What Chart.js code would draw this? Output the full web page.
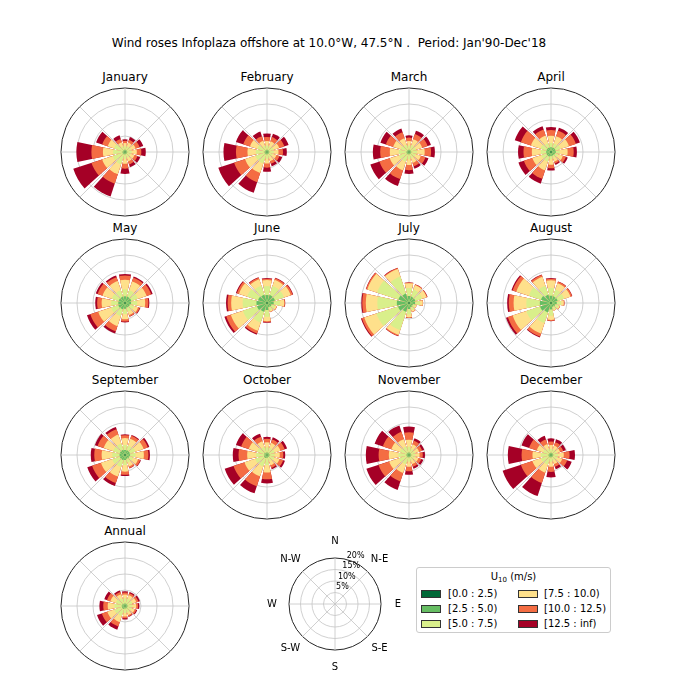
<!DOCTYPE html>
<html><head><meta charset="utf-8">
<script src="https://cdn.jsdelivr.net/npm/chart.js@4.4.1/dist/chart.umd.min.js"></script>
<style>
html,body{margin:0;padding:0;background:#fff;}
#fig{position:relative;width:683px;height:696px;overflow:hidden;font-family:"DejaVu Sans",sans-serif;color:#000;}
.t{position:absolute;transform:translate(-50%,-50%);white-space:nowrap;font-size:12px;line-height:14px;}
canvas{position:absolute;}
#legend{position:absolute;left:416px;top:567px;width:193px;height:64px;border:1px solid #cccccc;border-radius:3px;background:rgba(255,255,255,0.8);font-size:10px;}
#legend .lt{position:absolute;left:0;width:100%;top:3px;text-align:center;font-size:10px;}
#legend .lt sub{font-size:7px;vertical-align:-2px;line-height:0;}
#legend .pt{position:absolute;width:18px;height:6px;border:1px solid #333;}
#legend .tx{position:absolute;line-height:12px;white-space:nowrap;}
</style></head>
<body><div id="fig"></div>
<script>
// ---------------- data (percent frequency, per direction row: one value per speed bin) ----------------
const directions = ['N','30°','60°','E','120°','150°','S','210°','240°','W','300°','330°'];
const speedBins = ['[0.0 : 2.5)','[2.5 : 5.0)','[5.0 : 7.5)','[7.5 : 10.0)','[10.0 : 12.5)','[12.5 : inf)'];
const binColors = ['#006837','#66bd63','#d9ef8b','#fee08b','#f46d43','#a50026'];
const radialTicks = [5,10,15,20];
const compassLabels = ['N','N-E','E','S-E','S','S-W','W','N-W'];
const monthNames = ['January','February','March','April','May','June','July','August','September','October','November','December','Annual'];

const january = [
[0.2,0.5,1.1,1.0,0.7,0.5],[0.2,0.5,1.2,1.2,0.9,0.9],[0.2,0.5,1.3,1.5,1.3,1.2],[0.2,0.5,1.4,1.6,1.4,1.4],
[0.2,0.5,1.2,1.2,1.0,0.9],[0.2,0.5,1.2,1.2,1.0,0.9],[0.2,0.5,1.4,1.6,1.5,1.7],[0.2,0.6,3.3,3.2,3.1,4.2],
[0.2,0.6,3.2,3.5,3.5,6.0],[0.2,0.6,2.9,3.2,3.6,4.7],[0.2,0.5,2.9,2.1,1.8,2.0],[0.2,0.5,1.2,1.3,1.1,1.2]];
const february = [
[0.2,0.5,1.3,1.4,1.3,1.1],[0.2,0.5,1.3,1.5,1.4,1.1],[0.2,0.5,1.5,1.8,1.7,1.4],[0.2,0.5,1.4,1.5,1.4,1.2],
[0.2,0.5,1.2,1.2,1.0,0.9],[0.2,0.5,1.2,1.1,0.9,0.8],[0.2,0.5,1.4,1.5,1.3,1.3],[0.2,0.6,3.0,3.1,3.0,3.5],
[0.2,0.6,3.0,3.4,3.6,5.2],[0.2,0.6,2.7,2.6,3.6,3.9],[0.2,0.5,2.5,2.4,2.2,2.4],[0.2,0.5,1.4,1.6,1.5,1.5]];
const march = [
[0.2,0.5,1.3,1.4,1.1,0.7],[0.2,0.5,1.6,1.9,1.7,1.1],[0.2,0.5,1.6,2.0,1.8,1.1],[0.2,0.5,1.8,2.4,2.0,1.2],
[0.2,0.5,1.5,1.7,1.5,1.0],[0.2,0.5,1.4,1.5,1.1,0.8],[0.2,0.5,1.6,1.8,1.6,1.2],[0.2,0.6,2.4,2.8,2.9,2.3],
[0.2,0.6,2.5,3.0,3.4,3.0],[0.2,0.6,2.4,2.8,3.0,2.3],[0.2,0.5,2.1,2.4,2.4,1.8],[0.2,0.5,1.7,2.1,2.0,1.2]];
const april = [
[0.3,1.2,1.3,2.3,1.8,0.9],[0.3,1.2,1.3,2.4,1.8,1.0],[0.3,1.2,1.6,2.8,2.3,1.3],[0.3,1.2,1.3,2.4,1.9,1.0],
[0.3,1.0,1.0,1.6,1.0,0.6],[0.3,0.9,0.8,1.2,0.6,0.4],[0.3,1.0,1.0,1.7,1.1,0.7],[0.3,1.2,1.7,2.8,2.8,1.6],
[0.3,1.2,1.7,2.9,2.8,1.8],[0.3,1.2,1.7,2.8,2.6,1.7],[0.3,1.2,1.9,3.2,3.3,2.0],[0.3,1.2,1.4,2.5,2.0,1.1]];
const may = [
[0.3,1.8,2.2,3.0,1.3,0.5],[0.3,1.8,2.1,2.9,1.2,0.4],[0.3,1.8,2.1,2.9,1.5,0.5],[0.3,1.6,1.9,2.5,1.0,0.3],
[0.3,1.3,1.4,1.3,0.5,0.2],[0.3,1.2,1.4,1.1,0.4,0.1],[0.3,1.5,1.6,1.7,0.7,0.3],[0.3,1.8,2.2,3.3,1.7,0.7],
[0.3,1.9,2.4,4.2,2.6,1.1],[0.3,1.8,2.2,3.0,1.4,0.6],[0.3,1.8,2.2,3.1,1.6,0.6],[0.3,1.8,2.1,3.0,1.3,0.5]];
const june = [
[0.3,2.2,2.8,1.9,0.4,0.2],[0.3,2.3,3.0,2.0,0.5,0.2],[0.3,2.3,3.0,2.2,0.6,0.2],[0.3,1.8,2.0,1.3,0.2,0.1],
[0.3,1.2,1.2,0.5,0.1,0.0],[0.3,1.1,1.1,0.4,0.1,0.0],[0.3,1.9,2.1,1.4,0.3,0.2],[0.3,2.6,3.5,2.7,0.9,0.4],
[0.3,3.0,4.6,4.0,1.5,0.6],[0.3,3.0,4.3,3.6,1.1,0.5],[0.3,2.6,3.6,2.7,0.7,0.3],[0.3,2.4,3.0,2.1,0.5,0.2]];
const july = [
[0.3,1.9,2.5,1.5,0.2,0.1],[0.3,1.8,2.3,1.5,0.2,0.1],[0.3,1.8,2.2,1.5,0.2,0.1],[0.3,1.6,1.6,0.8,0.1,0.0],
[0.3,1.0,0.8,0.4,0.0,0.0],[0.3,1.1,1.0,0.5,0.1,0.0],[0.3,1.6,1.7,0.9,0.1,0.1],[0.3,2.6,6.0,1.6,0.3,0.1],
[0.3,3.3,7.1,4.0,0.8,0.3],[0.3,3.5,6.1,3.6,1.1,0.3],[0.3,3.2,7.0,3.2,0.4,0.1],[0.3,2.8,5.6,2.5,0.3,0.1]];
const august = [
[0.3,2.0,2.4,2.4,0.5,0.2],[0.3,1.9,2.2,2.1,0.5,0.1],[0.3,1.9,2.1,2.1,0.5,0.1],[0.3,1.5,1.4,0.8,0.2,0.0],
[0.3,1.1,1.1,0.4,0.1,0.0],[0.3,1.0,0.9,0.3,0.0,0.0],[0.3,1.7,2.0,1.3,0.3,0.1],[0.3,2.8,3.5,3.4,1.0,0.3],
[0.3,3.3,4.5,4.5,1.6,0.6],[0.3,3.2,4.2,4.0,1.5,0.5],[0.3,3.0,4.0,4.1,1.2,0.4],[0.3,2.4,3.0,2.9,0.6,0.2]];
const september = [
[0.3,1.3,1.5,2.2,0.9,0.3],[0.3,1.3,1.5,2.2,1.0,0.3],[0.3,1.3,1.8,2.7,1.4,0.5],[0.3,1.3,1.7,2.6,1.4,0.5],
[0.3,1.1,1.3,1.6,0.7,0.2],[0.3,1.0,1.2,1.3,0.5,0.1],[0.3,1.3,1.5,2.1,1.0,0.4],[0.3,1.4,2.3,3.1,2.1,1.0],
[0.3,1.4,2.5,3.7,2.9,1.6],[0.3,1.4,2.3,3.3,2.3,1.1],[0.3,1.4,2.2,3.1,2.0,0.9],[0.3,1.4,2.1,2.9,1.8,0.7]];
const october = [
[0.2,0.6,1.6,1.6,1.1,0.6],[0.2,0.6,1.6,1.6,1.1,0.7],[0.2,0.6,1.7,1.9,1.4,0.8],[0.2,0.6,1.6,1.6,1.1,0.6],
[0.2,0.6,1.6,1.7,1.2,0.6],[0.2,0.5,1.4,1.3,0.8,0.5],[0.2,0.7,2.2,2.4,2.1,1.3],[0.2,0.8,2.8,3.2,3.3,2.3],
[0.2,0.8,2.9,3.5,3.6,2.9],[0.2,0.7,2.5,2.8,2.7,1.8],[0.2,0.7,2.4,2.7,2.5,1.7],[0.2,0.6,1.8,1.9,1.5,1.0]];
const november = [
[0.2,0.6,1.8,2.2,2.3,1.8],[0.2,0.5,1.4,1.4,1.2,0.8],[0.2,0.5,1.3,1.3,1.0,0.7],[0.2,0.5,1.3,1.3,1.0,0.7],
[0.2,0.5,1.2,1.2,0.9,0.7],[0.2,0.5,1.2,1.1,0.9,0.6],[0.2,0.5,1.4,1.6,1.4,1.1],[0.2,0.6,2.3,2.8,2.8,2.8],
[0.2,0.6,2.5,3.2,3.5,4.0],[0.2,0.6,2.5,3.0,3.2,4.0],[0.2,0.6,2.2,2.8,2.8,2.7],[0.2,0.6,2.0,2.4,2.4,2.1]];
const december = [
[0.2,0.5,1.2,1.2,1.1,1.0],[0.2,0.5,1.2,1.2,1.1,1.0],[0.2,0.5,1.2,1.1,1.0,0.9],[0.2,0.5,1.5,1.8,1.8,1.7],
[0.2,0.5,1.4,1.6,1.6,1.5],[0.2,0.5,1.2,1.1,0.9,0.8],[0.2,0.5,1.4,1.6,1.6,1.7],[0.2,0.6,2.4,2.6,3.4,4.3],
[0.2,0.6,2.5,2.8,3.8,6.0],[0.2,0.6,2.4,2.6,3.4,4.3],[0.2,0.5,1.9,2.1,2.5,2.5],[0.2,0.5,1.4,1.5,1.5,1.2]];
const annual = [
[0.2,0.6,1.6,1.2,0.6,0.4],[0.2,0.6,1.6,1.2,0.6,0.4],[0.2,0.6,1.6,1.3,0.7,0.5],[0.2,0.6,1.5,1.2,0.6,0.4],
[0.2,0.6,1.4,1.0,0.5,0.3],[0.2,0.6,1.3,0.9,0.4,0.2],[0.2,0.6,1.4,1.1,0.5,0.4],[0.2,0.8,2.3,2.0,1.4,1.1],
[0.2,0.8,2.5,2.3,1.8,1.6],[0.2,0.8,2.3,2.1,1.4,1.2],[0.2,0.7,2.1,1.8,1.1,0.9],[0.2,0.6,1.7,1.4,0.7,0.5]];

const monthData = [january,february,march,april,may,june,july,august,september,october,november,december,annual];

// ---------------- layout ----------------
const fig = document.getElementById('fig');
const colX = [125, 267, 409, 551];
const rowY = [152, 303, 455, 606];
const SECTOR = 360 / directions.length;   // 30 deg
const OPENING = 0.8;                      // bar opening fraction
const GRID = '#c4c4c4';
const SPINE = '#262626';
const spokeAngles = [0,45,90,135,180,225,270,315];

function addText(html, x, y, size) {
  const d = document.createElement('div');
  d.className = 't';
  d.style.left = x + 'px'; d.style.top = y + 'px';
  d.style.fontSize = size + 'px';
  d.innerHTML = html;
  fig.appendChild(d);
  return d;
}
function addCanvas(left, top, w, h) {
  const c = document.createElement('canvas');
  c.width = w; c.height = h;
  c.style.left = left + 'px'; c.style.top = top + 'px';
  c.style.width = w + 'px'; c.style.height = h + 'px';
  fig.appendChild(c);
  return c;
}

const spokesPlugin = {
  id: 'spokes',
  beforeDatasetsDraw(chart) {
    const s = chart.scales.r, ctx = chart.ctx;
    ctx.save();
    ctx.strokeStyle = GRID; ctx.lineWidth = 0.8;
    spokeAngles.forEach(a => {
      const t = a * Math.PI / 180 - Math.PI / 2;
      ctx.beginPath();
      ctx.moveTo(s.xCenter, s.yCenter);
      ctx.lineTo(s.xCenter + Math.cos(t) * s.drawingArea, s.yCenter + Math.sin(t) * s.drawingArea);
      ctx.stroke();
    });
    ctx.restore();
  }
};

function radialScale(startAngle) {
  return {
    type: 'radialLinear', min: 0, max: 20, startAngle: startAngle, beginAtZero: true,
    ticks: { display: false, stepSize: 5 },
    grid: { circular: true,
      color: c => (c.tick && c.tick.value === 20) ? SPINE : GRID,
      lineWidth: c => (c.tick && c.tick.value === 20) ? 1 : 0.8 },
    angleLines: { display: false },
    pointLabels: { display: false }
  };
}

function buildDatasets(table) {
  // cumulative stacking: dataset b holds the sum of bins 0..b ; drawn outermost first
  return speedBins.map((lab, b) => {
    const data = [];
    table.forEach(row => {
      let cum = 0;
      for (let k = 0; k <= b; k++) cum += row[k];
      data.push(+cum.toFixed(2));
      data.push(0); // gap between sectors
    });
    return {
      label: lab, data: data,
      backgroundColor: binColors[b], borderWidth: 0,
      angle: c => (c.dataIndex % 2 === 0 ? SECTOR * OPENING : SECTOR * (1 - OPENING))
    };
  });
}

monthData.forEach((table, i) => {
  const cx = colX[i % 4], cy = rowY[Math.floor(i / 4)];
  addText(monthNames[i], cx, cy - 75, 12);
  const cv = addCanvas(cx - 66, cy - 66, 132, 132);
  const labels = [];
  directions.forEach(d => { labels.push(d); labels.push(''); });
  new Chart(cv, {
    type: 'polarArea',
    data: { labels: labels, datasets: buildDatasets(table) },
    options: {
      responsive: false, animation: false, events: [],
      layout: { padding: 2 },
      plugins: { legend: { display: false }, tooltip: { enabled: false } },
      scales: { r: radialScale(-SECTOR * OPENING / 2) }
    },
    plugins: [spokesPlugin]
  });
});

// ---------------- key rose ----------------
const keyPlugin = {
  id: 'keyLabels',
  afterDraw(chart) {
    const s = chart.scales.r, ctx = chart.ctx;
    ctx.save();
    ctx.fillStyle = '#000';
    ctx.font = '10px "DejaVu Sans"';
    ctx.textAlign = 'center'; ctx.textBaseline = 'middle';
    compassLabels.forEach((lab, k) => {
      const t = k * 45 * Math.PI / 180 - Math.PI / 2;
      const r = s.drawingArea + 17;
      ctx.fillText(lab, s.xCenter + Math.cos(t) * r, s.yCenter + Math.sin(t) * r);
    });
    ctx.font = '8px "DejaVu Sans"';
    const ra = 22.5 * Math.PI / 180;
    radialTicks.forEach(v => {
      const r = s.getDistanceFromCenterForValue(v);
      ctx.fillText(v + '%', s.xCenter + Math.sin(ra) * r + 3, s.yCenter - Math.cos(ra) * r - 6);
    });
    ctx.restore();
  }
};
const kcv = addCanvas(335 - 80, 604 - 80, 160, 160);
new Chart(kcv, {
  type: 'polarArea',
  data: { labels: compassLabels, datasets: [{ data: compassLabels.map(() => 0), borderWidth: 0 }] },
  options: {
    responsive: false, animation: false, events: [],
    layout: { padding: 34 },
    plugins: { legend: { display: false }, tooltip: { enabled: false } },
    scales: { r: radialScale(0) }
  },
  plugins: [spokesPlugin, keyPlugin]
});

// ---------------- title ----------------
addText("Wind roses Infoplaza offshore at 10.0°W, 47.5°N .&nbsp; Period: Jan'90-Dec'18", 329, 43, 12);

// ---------------- legend ----------------
const lg = document.createElement('div');
lg.id = 'legend';
lg.innerHTML = '<div class="lt">U<sub>10</sub> (m/s)</div>';
speedBins.forEach((lab, b) => {
  const col = Math.floor(b / 3), row = b % 3;
  const px = col === 0 ? 4 : 101, tx = col === 0 ? 31 : 127;
  const y = 26 + row * 15;
  const p = document.createElement('div');
  p.className = 'pt';
  p.style.left = px + 'px'; p.style.top = (y - 4) + 'px';
  p.style.background = binColors[b];
  lg.appendChild(p);
  const t = document.createElement('div');
  t.className = 'tx';
  t.style.left = tx + 'px'; t.style.top = (y - 6) + 'px';
  t.textContent = lab;
  lg.appendChild(t);
});
fig.appendChild(lg);
</script>
</body></html>
